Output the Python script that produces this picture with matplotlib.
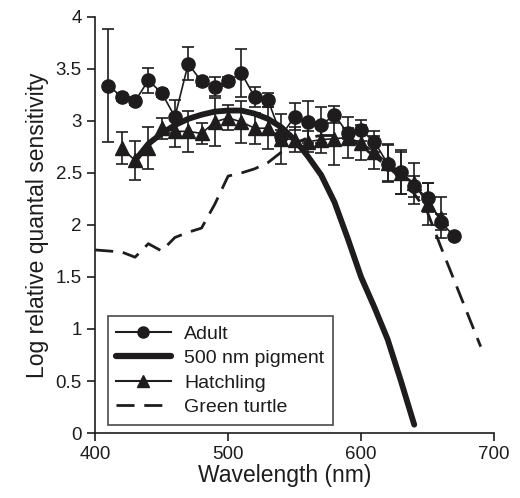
import numpy as np
import matplotlib
matplotlib.use('Agg')
import matplotlib.pyplot as plt
from matplotlib.lines import Line2D

plt.rcParams['font.family'] = ['Liberation Sans', 'DejaVu Sans']

# adult (circles)
adult_wl = [410, 420, 430, 440, 450, 460, 470, 480, 490, 500, 510, 520, 530, 540,
            550, 560, 570, 580, 590, 600, 610, 620, 630, 640, 650, 660, 670]
adult_val = [3.34, 3.23, 3.19, 3.39, 3.27, 3.04, 3.55, 3.38, 3.33, 3.38, 3.46, 3.23, 3.20, 2.86,
             3.04, 2.99, 2.96, 3.06, 2.88, 2.91, 2.80, 2.59, 2.51, 2.37, 2.26, 2.03, 1.89]
adult_err = [0.54, 0.04, 0.04, 0.12, 0.04, 0.16, 0.16, 0.04, 0.09, 0.04, 0.23, 0.10, 0.07, 0.05,
             0.13, 0.20, 0.17, 0.08, 0.05, 0.10, 0.10, 0.18, 0.21, 0.10, 0.14, 0.08, 0.0]

# hatchling (triangles)
hatch_wl = [420, 430, 440, 450, 460, 470, 480, 490, 500, 510, 520, 530, 540,
            550, 560, 570, 580, 590, 600, 610, 620, 630, 640, 650, 660]
hatch_val = [2.74, 2.62, 2.74, 2.93, 2.90, 2.90, 2.88, 2.99, 3.03, 2.99, 2.93, 2.93, 2.83,
             2.82, 2.80, 2.82, 2.83, 2.84, 2.79, 2.70, 2.60, 2.50, 2.40, 2.20, 2.07]
hatch_err = [0.15, 0.19, 0.20, 0.10, 0.15, 0.20, 0.10, 0.23, 0.12, 0.20, 0.15, 0.20, 0.24,
             0.12, 0.10, 0.13, 0.25, 0.20, 0.17, 0.16, 0.18, 0.20, 0.20, 0.20, 0.20]

# 500 nm pigment template
pig_wl = [430, 440, 450, 460, 470, 480, 490, 500, 510, 520, 530, 540,
          550, 560, 570, 580, 590, 600, 610, 620, 630, 640]
pig_val = [2.62, 2.78, 2.88, 2.96, 3.02, 3.06, 3.09, 3.10, 3.10, 3.07, 3.02, 2.94,
           2.82, 2.66, 2.48, 2.22, 1.87, 1.50, 1.21, 0.90, 0.50, 0.08]

# green turtle
green_wl = [400, 410, 420, 430, 440, 450, 460, 470, 480, 490, 500, 510, 520, 530, 540,
            550, 560, 570, 580, 590, 600, 610, 620, 630, 640, 650, 660, 670, 680, 690]
green_val = [1.76, 1.75, 1.74, 1.69, 1.82, 1.75, 1.88, 1.93, 1.97, 2.20, 2.47, 2.50, 2.54, 2.60, 2.70,
             2.78, 2.84, 2.86, 2.86, 2.83, 2.76, 2.66, 2.56, 2.45, 2.30, 2.12, 1.79, 1.47, 1.15, 0.83]

ink = '#1e1c1c'

fig = plt.figure(figsize=(5.2, 4.98), dpi=100)
ax = fig.add_axes([0.183, 0.1305, 0.767, 0.8355])

ax.plot(green_wl, green_val, color=ink, lw=2, dashes=(6.5, 3.5), zorder=1)
ax.errorbar(hatch_wl, hatch_val, yerr=hatch_err, color=ink, lw=1.2, marker='^', ms=9.5,
            capsize=4, elinewidth=1.2, capthick=1.2, zorder=2)
ax.plot(pig_wl, pig_val, color=ink, lw=4.2, solid_capstyle='round', zorder=3)
ax.errorbar(adult_wl, adult_val, yerr=adult_err, color=ink, lw=1.2, marker='o', ms=9.5,
            capsize=4, elinewidth=1.2, capthick=1.2, zorder=4)

ax.set_xlim(400, 700)
ax.set_ylim(0, 4)
ax.set_xticks([400, 500, 600, 700])
ax.set_yticks([0, 0.5, 1, 1.5, 2, 2.5, 3, 3.5, 4])
ax.set_yticklabels(['0', '0.5', '1', '1.5', '2', '2.5', '3', '3.5', '4'])
ax.spines['top'].set_visible(False)
ax.spines['right'].set_visible(False)
for s in ['left', 'bottom']:
    ax.spines[s].set_linewidth(1.2)
    ax.spines[s].set_color(ink)
ax.tick_params(direction='out', length=6, width=1.2, labelsize=13.5, colors=ink)
ax.set_xlabel('Wavelength (nm)', fontsize=16.5, color=ink, labelpad=1)
ax.xaxis.set_label_coords(0.475, -0.075)
ax.set_ylabel('Log relative quantal sensitivity', fontsize=16.5, color=ink, labelpad=5)

handles = [
    Line2D([], [], color=ink, lw=1.5, marker='o', ms=8),
    Line2D([], [], color=ink, lw=4.5, solid_capstyle='round'),
    Line2D([], [], color=ink, lw=1.5, marker='^', ms=8.5),
    Line2D([], [], color=ink, lw=2, dashes=(6.5, 3.5)),
]
labels = ['Adult', '500 nm pigment', 'Hatchling', 'Green turtle']
leg = ax.legend(handles, labels, loc='lower left', bbox_to_anchor=(0.031, 0.02),
                fontsize=14, frameon=True, fancybox=False, edgecolor=ink,
                handlelength=2.8, labelspacing=0.35, borderpad=0.45,
                handletextpad=0.7, borderaxespad=0)
leg.get_frame().set_linewidth(1.2)
for t in leg.get_texts():
    t.set_color(ink)

fig.savefig('out.png', dpi=100)
